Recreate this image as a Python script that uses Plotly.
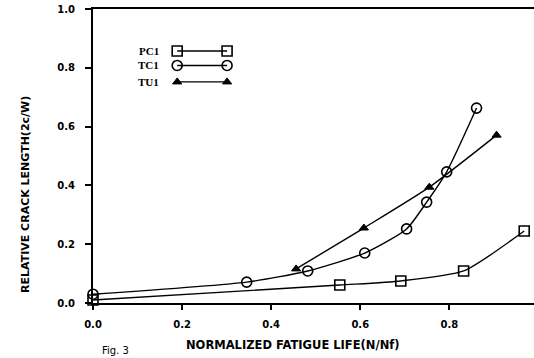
import plotly.graph_objects as go

# ---- data ----
pc1_x = [0.0, 0.554, 0.691, 0.832, 0.968]
pc1_y = [0.010, 0.061, 0.075, 0.109, 0.245]

tc1_x = [0.0, 0.345, 0.482, 0.610, 0.704, 0.749, 0.794, 0.861]
tc1_y = [0.030, 0.071, 0.109, 0.170, 0.252, 0.343, 0.446, 0.663]

tu1_x = [0.456, 0.608, 0.755, 0.906]
tu1_y = [0.116, 0.255, 0.394, 0.571]

series_names = ["PC1", "TC1", "TU1"]
x_ticks = [0.0, 0.2, 0.4, 0.6, 0.8]
y_ticks = [0.0, 0.2, 0.4, 0.6, 0.8, 1.0]
x_title = "NORMALIZED FATIGUE LIFE(N/Nf)"
y_title = "RELATIVE CRACK LENGTH(2c/W)"
caption = "Fig. 3"

FONT = "DejaVu Sans"
fig = go.Figure()

styles = [
    dict(symbol="square-open", size=10, line=dict(width=1.6, color="black")),
    dict(symbol="circle-open", size=10, line=dict(width=1.6, color="black")),
    dict(symbol="triangle-up", size=8, line=dict(width=1, color="black")),
]
data = [(pc1_x, pc1_y), (tc1_x, tc1_y), (tu1_x, tu1_y)]

for (xs, ys), st, name in zip(data, styles, series_names):
    fig.add_trace(go.Scatter(
        x=xs, y=ys, mode="lines+markers", name=name,
        line=dict(color="black", width=1.4, shape="spline", smoothing=0.6),
        marker=dict(color="black", **st),
        showlegend=False, cliponaxis=False,
    ))

# ---- plotter-style legend (text left, sample right) ----
leg_x = [0.189, 0.301]
leg_y = [0.857, 0.808, 0.752]
for name, st, ly in zip(series_names, styles, leg_y):
    fig.add_trace(go.Scatter(
        x=leg_x, y=[ly, ly], mode="lines+markers",
        line=dict(color="black", width=1.4),
        marker=dict(color="black", **st),
        showlegend=False, hoverinfo="skip",
    ))
    fig.add_annotation(x=0.153, y=ly, xref="x", yref="y", text="<b>%s</b>" % name,
                       showarrow=False, xanchor="right", yanchor="middle",
                       font=dict(family="Liberation Serif", size=11, color="black"))

# axis titles (placed where the reference has them)
fig.add_annotation(x=(293 - 93) / 441, y=(303 - 345) / 294, xref="paper", yref="paper",
                   text="<b>%s</b>" % x_title, showarrow=False,
                   xanchor="center", yanchor="middle",
                   font=dict(family=FONT, size=11.5, color="black"))
fig.add_annotation(x=-(93 - 25) / 441, y=(303 - 195) / 294, xref="paper", yref="paper",
                   text="<b>%s</b>" % y_title, showarrow=False, textangle=-90,
                   xanchor="center", yanchor="middle",
                   font=dict(family=FONT, size=11, color="black"))
fig.add_annotation(x=-(93 - 100) / 441, y=(303 - 358) / 294, xref="paper", yref="paper",
                   text=caption, showarrow=False, xanchor="left", yanchor="bottom",
                   font=dict(family=FONT, size=10, color="black"))

fig.update_xaxes(
    range=[0, 0.99], tickvals=x_ticks, ticktext=["%.1f" % v for v in x_ticks],
    showline=True, linecolor="black", linewidth=2, mirror=True,
    ticks="outside", ticklen=5, tickwidth=1.5, tickcolor="black",
    showgrid=False, zeroline=False, ticklabelstandoff=6,
    tickfont=dict(family=FONT, size=10, color="black", weight="bold"),
)
fig.update_yaxes(
    range=[0, 1.0], tickvals=y_ticks, ticktext=["%.1f" % v for v in y_ticks],
    showline=True, linecolor="black", linewidth=2,
    ticks="outside", ticklen=6, tickwidth=1.5, tickcolor="black",
    showgrid=False, zeroline=False, ticklabelstandoff=8,
    tickfont=dict(family=FONT, size=10, color="black", weight="bold"),
)

fig.update_layout(
    width=534, height=358,
    margin=dict(l=93, r=0, t=9, b=55),
    paper_bgcolor="white", plot_bgcolor="white",
)

fig.write_html("out.html")
